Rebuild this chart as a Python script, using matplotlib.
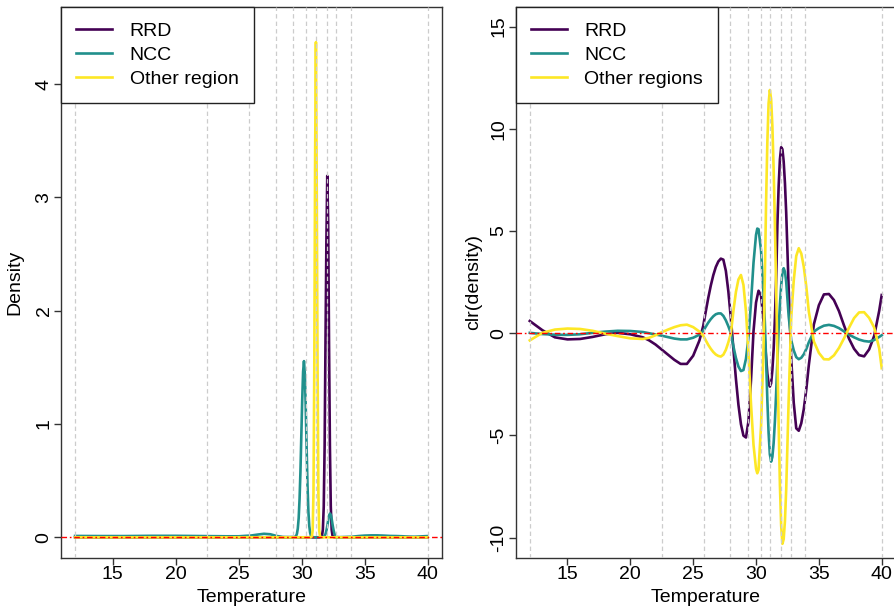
import numpy as np
from matplotlib import pyplot as plt

# knots of the spline basis (grey dashed lines)
knots = [12.0, 22.5, 25.85, 27.95, 29.33, 30.38, 31.15, 31.97, 32.75, 33.93, 40.0]

series_names = ['RRD', 'NCC', 'Other region']
series_names_clr = ['RRD', 'NCC', 'Other regions']
series_colors = ['#440154', '#21908C', '#FDE725']

# clr(density) curves
temp_clr = [
    12, 13, 14, 15, 16, 17, 18, 19, 20, 21, 21.5, 22, 22.5, 23, 23.5, 24, 24.5, 25, 25.5,
    25.8, 26.0, 26.2, 26.4, 26.6, 26.8, 27.0, 27.2, 27.4, 27.6, 27.8, 28.0, 28.2, 28.4,
    28.6, 28.8, 29.0, 29.2, 29.4, 29.6, 29.8, 30.0, 30.1, 30.2, 30.4,
    30.6, 30.7, 30.8, 30.9, 31.0, 31.1, 31.2, 31.3, 31.4, 31.5, 31.6, 31.7, 31.8, 31.9,
    32.0, 32.1, 32.2, 32.3, 32.4,
    32.6, 32.8, 33.0, 33.2, 33.4, 33.6, 33.8, 34.0, 34.2,
    34.6, 35.0, 35.4, 35.8, 36.2, 36.6, 37.0, 37.4, 37.8, 38.2, 38.6, 39.0, 39.4, 39.8, 40.0,
]
clr_rrd = [
    0.6, 0.15, -0.2, -0.3, -0.28, -0.18, -0.05, 0.02, -0.05, -0.2, -0.35, -0.55, -0.8, -1.05, -1.3, -1.5, -1.5, -1.1, -0.35,
    0.36, 1.06, 1.73, 2.33, 2.84, 3.24, 3.51, 3.65, 3.6, 3.05, 2.04, 0.72, -0.77, -2.23,
    -3.5, -4.45, -5.01, -5.1, -4.3, -2.3, 0.1, 1.5, 1.8, 2.08, 1.85,
    0.6, -0.37, -1.15, -1.97, -2.45, -2.61, -2.45, -1.8, -0.8, 0.7, 2.6, 5.3, 7.2, 8.5,
    9.1, 9.0, 8.4, 7.35, 5.9,
    2.12, -1.25, -3.4, -4.65, -4.77, -4.4, -3.71, -2.74, -1.56,
    0.43, 1.37, 1.9, 1.92, 1.62, 1.08, 0.38, -0.27, -0.76, -1.07, -1.13, -0.79, -0.13, 1.1, 1.87,
]
clr_ncc = [
    0.02, -0.04, -0.07, -0.08, -0.05, 0.02, 0.08, 0.12, 0.11, 0.06, 0.0, -0.06, -0.12, -0.19, -0.26, -0.3, -0.3, -0.22, -0.07,
    0.11, 0.32, 0.52, 0.69, 0.83, 0.93, 0.97, 0.97, 0.85, 0.63, 0.34, 0.0, -0.64, -1.21,
    -1.63, -1.85, -1.8, -1.25, -0.2, 1.5, 3.45, 4.81, 5.12, 5.09, 4.04,
    1.88, 0.55, -1.28, -3.26, -4.87, -5.92, -6.28, -6.05, -5.38, -4.32, -2.94, -1.35, 0.24, 1.38,
    2.33, 2.96, 3.18, 3.01, 2.52,
    0.82, -0.34, -0.84, -1.17, -1.27, -1.2, -1.03, -0.77, -0.44,
    0.08, 0.25, 0.37, 0.41, 0.36, 0.25, 0.09, -0.07, -0.2, -0.31, -0.38, -0.41, -0.33, -0.18, -0.1,
]
clr_other = [
    -0.35, 0.02, 0.18, 0.23, 0.21, 0.12, -0.02, -0.14, -0.25, -0.28, -0.22, -0.1, 0.05, 0.18, 0.3, 0.39, 0.42, 0.3, 0.08,
    -0.12, -0.35, -0.57, -0.76, -0.92, -1.04, -1.11, -1.14, -1.05, -0.81, -0.44, 0.0, 1.09, 2.02,
    2.63, 2.85, 2.36, 1.07, -0.94, -3.46, -5.46, -6.63, -6.85, -6.68, -4.53,
    -0.65, 2.76, 6.4, 9.34, 11.25, 11.9, 11.45, 10.14, 8.06, 5.38, 2.28, -1.08, -4.51, -7.41,
    -9.41, -10.3, -10.07, -9.18, -7.65,
    -3.18, 0.79, 2.57, 3.78, 4.16, 3.9, 3.25, 2.27, 1.06,
    -0.4, -0.96, -1.27, -1.28, -1.08, -0.72, -0.25, 0.27, 0.74, 1.02, 1.03, 0.75, 0.28, -0.75, -1.71,
]

# densities
temp_dens_rrd = [
    12.0, 31.4, 31.47, 31.54, 31.61, 31.68, 31.75, 31.82, 31.89, 31.96, 32.03,
    32.10, 32.17, 32.24, 32.31, 32.38, 32.45, 32.52, 32.6, 40.0,
]
dens_rrd = [
    0.0, 0.0, 0.0005, 0.004, 0.012, 0.067, 0.27, 0.8, 1.72, 2.6, 3.19,
    2.8, 1.72, 0.8, 0.27, 0.067, 0.012, 0.002, 0.0, 0.0,
]
temp_dens_ncc = [
    12, 14, 16, 18, 20, 22, 24, 25, 26, 26.5, 27, 27.5, 28, 28.5, 29,
    29.48, 29.55, 29.62, 29.69, 29.76, 29.83, 29.9, 29.97, 30.04, 30.11, 30.18,
    30.25, 30.32, 30.39, 30.46, 30.53, 30.6, 30.67, 30.74, 30.81, 31.0, 31.5,
    31.69, 31.76, 31.83, 31.9, 31.97, 32.04, 32.11, 32.18, 32.25,
    32.32, 32.39, 32.46, 32.53, 32.6, 32.67, 32.74, 32.81,
    33.0, 33.5, 34.0, 34.5, 35.0, 35.5, 36.0, 36.5, 37.0, 37.5, 38.0, 38.5, 39.0, 39.5, 40.0,
]
dens_ncc = [
    0.012, 0.011, 0.011, 0.013, 0.013, 0.011, 0.009, 0.009, 0.016, 0.024, 0.031, 0.027, 0.012, 0.003, 0.002,
    0.0034, 0.011, 0.031, 0.078, 0.17, 0.34, 0.58, 0.9, 1.21, 1.46, 1.555,
    1.44, 1.15, 0.79, 0.46, 0.23, 0.1, 0.039, 0.012, 0.003, 0.0, 0.0,
    0.002, 0.005, 0.014, 0.032, 0.063, 0.106, 0.155, 0.195, 0.21,
    0.195, 0.155, 0.106, 0.063, 0.032, 0.014, 0.005, 0.002,
    0.001, 0.003, 0.005, 0.011, 0.015, 0.017, 0.017, 0.015, 0.012, 0.011, 0.009, 0.006, 0.005, 0.008, 0.011,
]
temp_dens_other = [
    12.0, 30.7, 30.74, 30.805, 30.87, 30.935, 31.0, 31.065, 31.13,
    31.195, 31.26, 31.325, 31.39, 31.455, 31.52, 40.0,
]
dens_other = [
    0.0, 0.0, 0.001, 0.006, 0.06, 0.39, 1.5, 3.35, 4.37,
    3.05, 1.5, 0.39, 0.06, 0.006, 0.0, 0.0,
]

x_ticks = [15, 20, 25, 30, 35, 40]
y_ticks_dens = [0, 1, 2, 3, 4]
y_ticks_clr = [-10, -5, 0, 5, 10, 15]


def style_axis(ax, ylabel, ylabel_x):
    ax.set_xlim(10.88, 41.12)
    ax.set_xticks(x_ticks)
    for side in ['left', 'right', 'top', 'bottom']:
        ax.spines[side].set_color('#333333')
        ax.spines[side].set_linewidth(1.0)
    ax.tick_params(axis='both', which='major', length=5, width=1.0,
                   color='#333333', labelsize=14)
    ax.tick_params(axis='x', pad=1)
    ax.tick_params(axis='y', pad=1)
    for lab in ax.get_yticklabels():
        lab.set_rotation(90)
        lab.set_va('center')
    ax.set_xlabel('Temperature', fontsize=14, va='center')
    ax.xaxis.set_label_coords(0.5, -0.0714)
    ax.set_ylabel(ylabel, fontsize=14, va='center')
    ax.yaxis.set_label_coords(ylabel_x, 0.5)


def add_guides(ax):
    for k in knots:
        ax.axvline(k, color='#cccccc', linewidth=0.9, linestyle=(0, (3.5, 2.5)), zorder=3)
    ax.axhline(0, color='#ff0000', linewidth=1.0, linestyle=(0, (4.0, 2.0, 1.2, 2.0)), zorder=4)


def add_legend(ax, labels):
    leg = ax.legend(
        labels,
        loc='upper left',
        bbox_to_anchor=(0.0, 1.0),
        borderaxespad=0.0,
        fancybox=False,
        framealpha=1.0,
        edgecolor='#222222',
        fontsize=14,
        handlelength=1.85,
        handletextpad=0.9,
        borderpad=0.78,
        labelspacing=0.34,
    )
    leg.get_frame().set_linewidth(1.0)
    leg.set_zorder(6)
    return leg


def plot_panels(save_fig=True):
    plt.rcParams['font.family'] = ['Liberation Sans', 'DejaVu Sans']
    plt.rcParams['axes.unicode_minus'] = False

    fig = plt.figure(figsize=(8.94, 6.11), dpi=100)
    bottom = 1 - 557.7 / 611
    height = (557.7 - 7) / 611
    ax1 = fig.add_axes([61 / 894, bottom, (441.7 - 61) / 894, height])
    ax2 = fig.add_axes([515.7 / 894, bottom, (895.8 - 515.7) / 894, height])

    # left: densities
    dens_t = [temp_dens_rrd, temp_dens_ncc, temp_dens_other]
    dens_v = [dens_rrd, dens_ncc, dens_other]
    for t, v, c in zip(dens_t, dens_v, series_colors):
        ax1.plot(t, v, color=c, linewidth=1.9, zorder=2)
    ax1.set_ylim(-0.18, 4.68)
    ax1.set_yticks(y_ticks_dens)
    add_guides(ax1)
    style_axis(ax1, 'Density', -0.1208)
    add_legend(ax1, series_names)

    # right: clr transformed densities
    for v, c in zip([clr_rrd, clr_ncc, clr_other], series_colors):
        ax2.plot(temp_clr, v, color=c, linewidth=1.9, zorder=2)
    ax2.set_ylim(-10.98, 15.96)
    ax2.set_yticks(y_ticks_clr)
    add_guides(ax2)
    style_axis(ax2, 'clr(density)', -0.112)
    add_legend(ax2, series_names_clr)

    if save_fig:
        fig.savefig('out.png', dpi=100)
    return fig


if __name__ == '__main__':
    plot_panels(save_fig=True)
